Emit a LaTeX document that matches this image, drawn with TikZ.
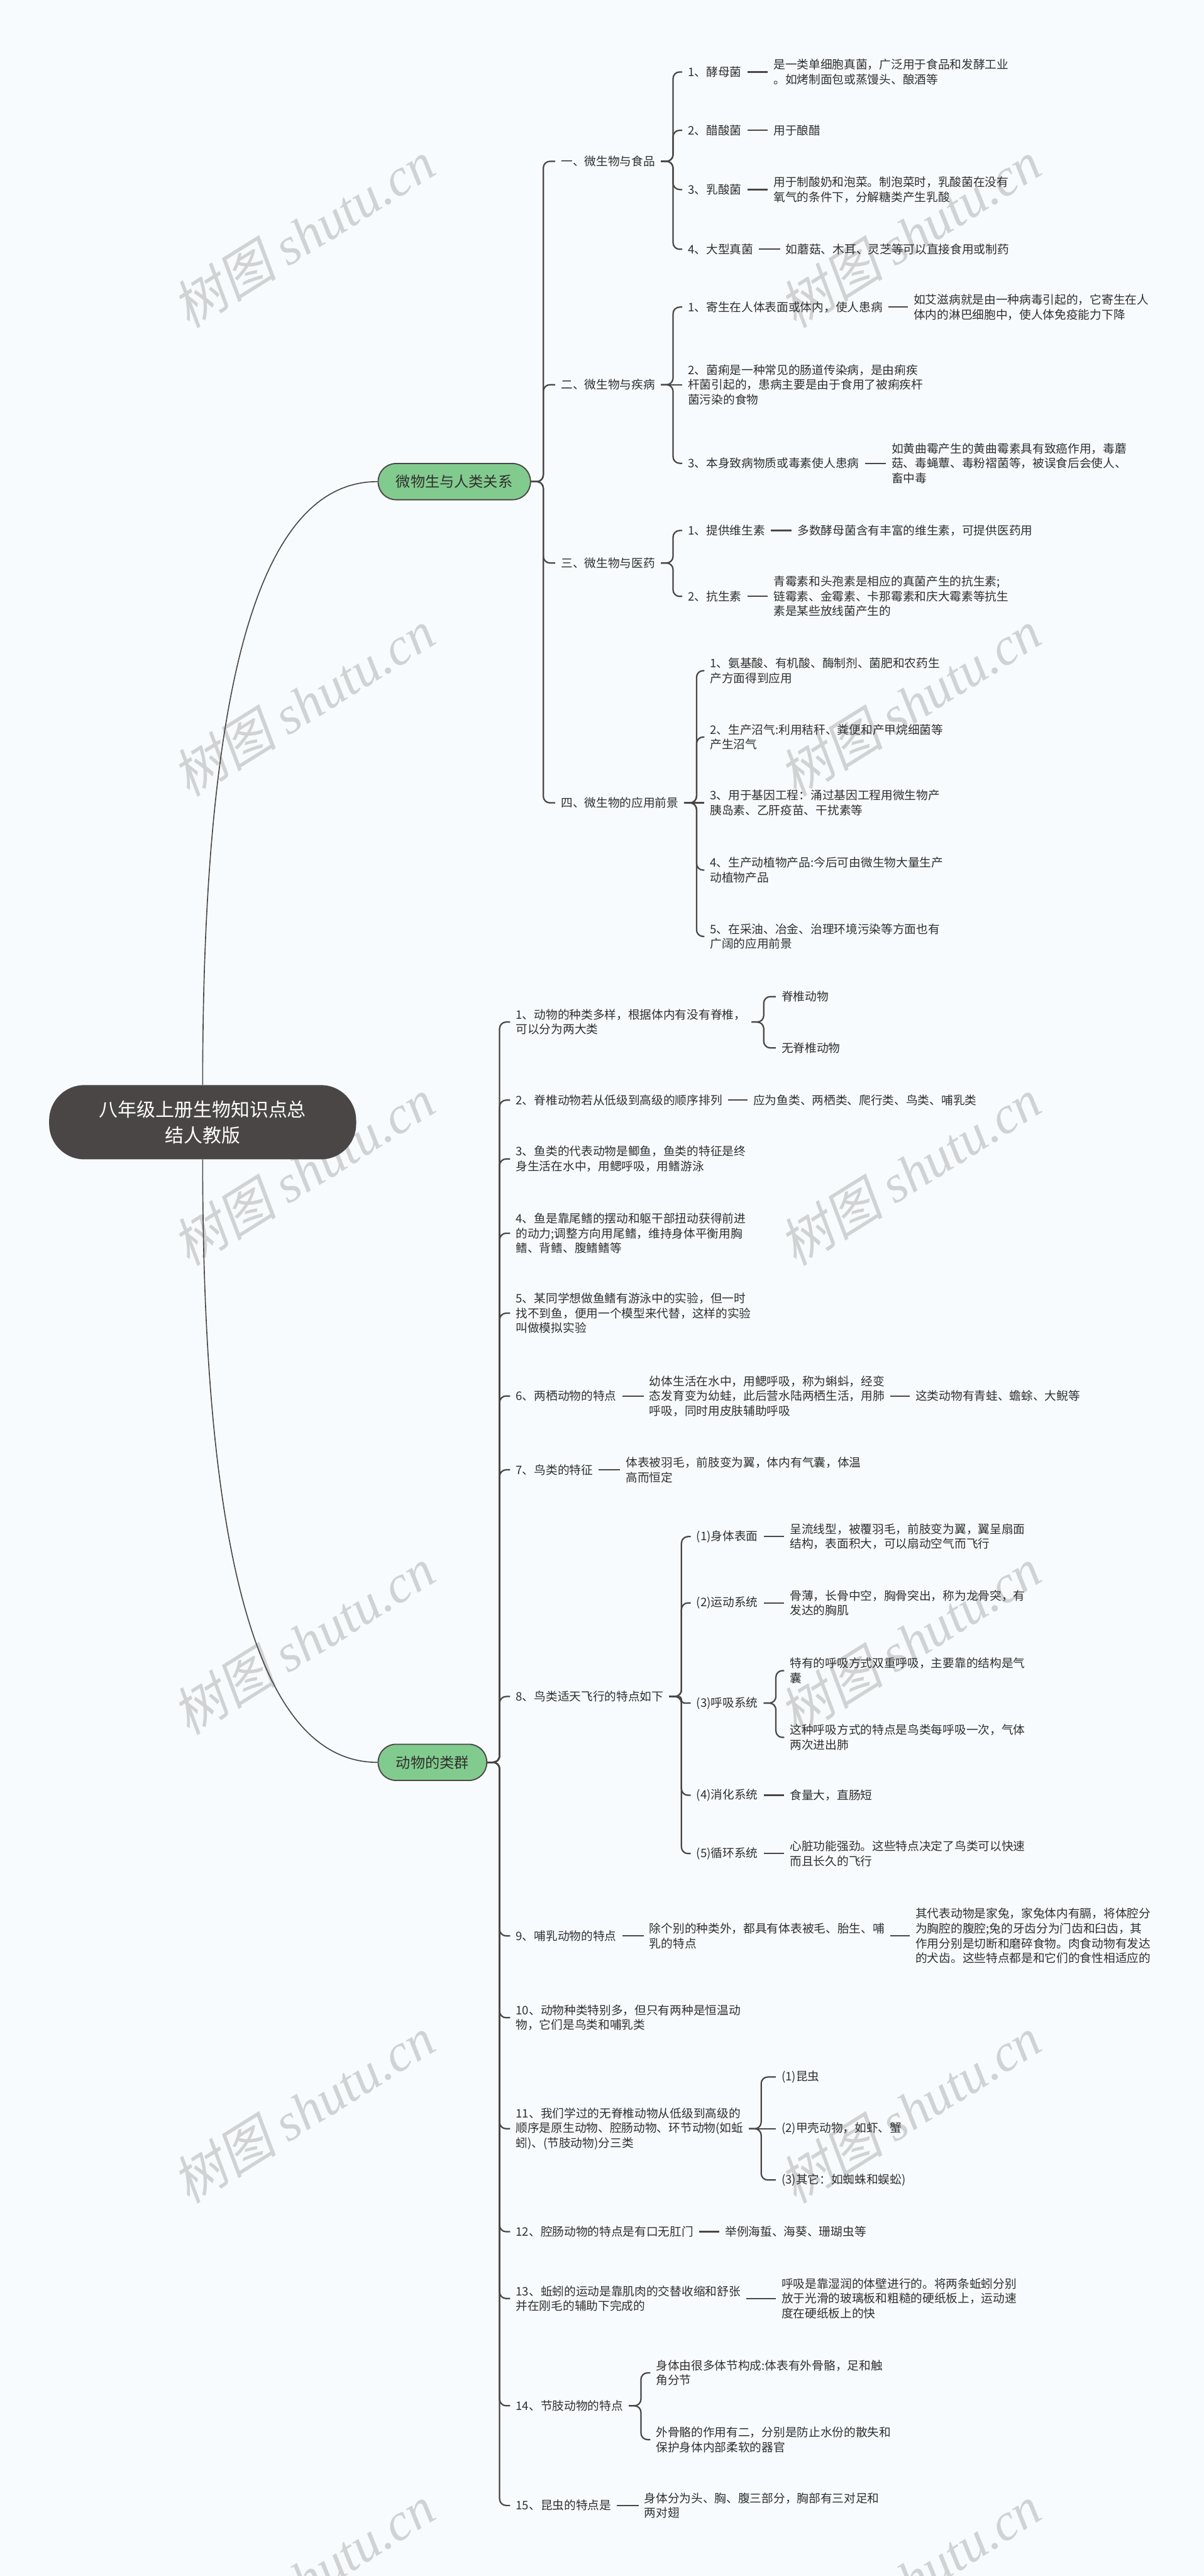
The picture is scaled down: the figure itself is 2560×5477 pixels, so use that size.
\documentclass[tikz,border=0pt]{standalone}
\usepackage{fontspec}
\setmainfont{Noto Sans CJK SC}
\newfontfamily\wmcjk[FakeSlant=0.2]{Noto Sans CJK SC}
\newfontfamily\wmlat{Liberation Serif}
\usepackage{tikz}

\definecolor{bgcol}{HTML}{F8FBFD}
\definecolor{rootgray}{HTML}{4B4646}
\definecolor{linegray}{HTML}{4A4646}
\definecolor{textgray}{HTML}{2F2F2F}
\definecolor{topicgreen}{HTML}{82CB8E}
\definecolor{wmgray}{HTML}{D0D2D3}

\newcommand{\branchto}[3][14]{\draw[link, rounded corners=#1] (#2.east) -- ++(26,0) |- (#3.west);}
\newcommand{\leafto}[2]{\draw[link] (#1.east) -- (#2.west);}

\begin{document}
\begin{tikzpicture}[x=1pt, y=-1pt,
    root/.style={fill=rootgray, text=white, rounded corners=75, align=center,
                 minimum width=653, minimum height=158, font=\fontsize{40}{55}\selectfont},
    topic/.style={draw=linegray, line width=2.5, fill=topicgreen, text=textgray, anchor=west,
                  rounded corners=38, minimum height=77, inner xsep=38, font=\fontsize{31}{38}\selectfont},
    item/.style={anchor=west, align=left, inner sep=12, text=textgray,
                 font=\fontsize{25}{31.5}\selectfont},
    wmark/.style={text=wmgray, rotate=32, inner sep=0},
    trunk/.style={draw=linegray, line width=2.2},
    link/.style={draw=linegray, line width=3}
  ]
  \useasboundingbox (0,0) rectangle (2560,5477);
  \fill[bgcol] (0,0) rectangle (2560,5477);

  \foreach \wy in {498,1495,2492,3489,4486,5483} {
    \node[wmark] (wl\wy) at (645,\wy) {\fontsize{112}{112}\selectfont\wmcjk 树图 \wmlat\itshape shutu.cn};
    \node[wmark] (wr\wy) at (1935,\wy) {\fontsize{112}{112}\selectfont\wmcjk 树图 \wmlat\itshape shutu.cn};
  }

  \node[root]  (root) at (431,2386) {八年级上册生物知识点总\\结人教版};
  \node[topic] (ta)   at (803,1024) {微物生与人类关系};
  \node[topic] (tb)   at (803,3747) {动物的类群};

  \node[item] (a1) at (1181,343)  {一、微生物与食品};
  \node[item] (a2) at (1181,818)  {二、微生物与疾病};
  \node[item] (a3) at (1181,1197) {三、微生物与医药};
  \node[item] (a4) at (1181,1707) {四、微生物的应用前景};

  \node[item] (a11)  at (1451,153) {1、酵母菌};
  \node[item] (a12)  at (1451,277) {2、醋酸菌};
  \node[item] (a13)  at (1451,403) {3、乳酸菌};
  \node[item] (a14)  at (1451,530) {4、大型真菌};
  \node[item] (a11x) at (1633,153) {是一类单细胞真菌，广泛用于食品和发酵工业\\。如烤制面包或蒸馒头、酿酒等};
  \node[item] (a12x) at (1633,277) {用于酿醋};
  \node[item] (a13x) at (1633,403) {用于制酸奶和泡菜。制泡菜时，乳酸菌在没有\\氧气的条件下，分解糖类产生乳酸};
  \node[item] (a14x) at (1659,530) {如蘑菇、木耳、灵芝等可以直接食用或制药};

  \node[item] (a21)  at (1451,653) {1、寄生在人体表面或体内，使人患病};
  \node[item] (a22)  at (1451,818) {2、菌痢是一种常见的肠道传染病，是由痢疾\\杆菌引起的，患病主要是由于食用了被痢疾杆\\菌污染的食物};
  \node[item] (a23)  at (1451,985) {3、本身致病物质或毒素使人患病};
  \node[item] (a21x) at (1931,653) {如艾滋病就是由一种病毒引起的，它寄生在人\\体内的淋巴细胞中，使人体免疫能力下降};
  \node[item] (a23x) at (1884,985) {如黄曲霉产生的黄曲霉素具有致癌作用，毒蘑\\菇、毒蝇蕈、毒粉褶菌等，被误食后会使人、\\畜中毒};

  \node[item] (a31)  at (1451,1128) {1、提供维生素};
  \node[item] (a32)  at (1451,1268) {2、抗生素};
  \node[item] (a31x) at (1684,1128) {多数酵母菌含有丰富的维生素，可提供医药用};
  \node[item] (a32x) at (1633,1268) {青霉素和头孢素是相应的真菌产生的抗生素;\\链霉素、金霉素、卡那霉素和庆大霉素等抗生\\素是某些放线菌产生的};

  \node[item] (a41) at (1498,1426) {1、氨基酸、有机酸、酶制剂、菌肥和农药生\\产方面得到应用};
  \node[item] (a42) at (1498,1567) {2、生产沼气:利用秸秆、粪便和产甲烷细菌等\\产生沼气};
  \node[item] (a43) at (1498,1707) {3、用于基因工程：涌过基因工程用微生物产\\胰岛素、乙肝疫苗、干扰素等};
  \node[item] (a44) at (1498,1850) {4、生产动植物产品:今后可由微生物大量生产\\动植物产品};
  \node[item] (a45) at (1498,1991) {5、在采油、冶金、治理环境污染等方面也有\\广阔的应用前景};

  \node[item] (b1)  at (1085,2173) {1、动物的种类多样，根据体内有没有脊椎，\\可以分为两大类};
  \node[item] (b2)  at (1085,2339) {2、脊椎动物若从低级到高级的顺序排列};
  \node[item] (b3)  at (1085,2464) {3、鱼类的代表动物是鲫鱼，鱼类的特征是终\\身生活在水中，用鳃呼吸，用鳍游泳};
  \node[item] (b4)  at (1085,2622) {4、鱼是靠尾鳍的摆动和躯干部扭动获得前进\\的动力;调整方向用尾鳍，维持身体平衡用胸\\鳍、背鳍、腹鳍鳍等};
  \node[item] (b5)  at (1085,2792) {5、某同学想做鱼鳍有游泳中的实验，但一时\\找不到鱼，便用一个模型来代替，这样的实验\\叫做模拟实验};
  \node[item] (b6)  at (1085,2968) {6、两栖动物的特点};
  \node[item] (b7)  at (1085,3125) {7、鸟类的特征};
  \node[item] (b8)  at (1085,3607) {8、鸟类适天飞行的特点如下};
  \node[item] (b9)  at (1085,4116) {9、哺乳动物的特点};
  \node[item] (b10) at (1085,4290) {10、动物种类特别多，但只有两种是恒温动\\物，它们是鸟类和哺乳类};
  \node[item] (b11) at (1085,4526) {11、我们学过的无脊椎动物从低级到高级的\\顺序是原生动物、腔肠动物、环节动物(如蚯\\蚓)、(节肢动物)分三类};
  \node[item] (b12) at (1085,4745) {12、腔肠动物的特点是有口无肛门};
  \node[item] (b13) at (1085,4887) {13、蚯蚓的运动是靠肌肉的交替收缩和舒张\\并在刚毛的辅助下完成的};
  \node[item] (b14) at (1085,5115) {14、节肢动物的特点};
  \node[item] (b15) at (1085,5327) {15、昆虫的特点是};

  \node[item] (b1v)  at (1650,2119) {脊椎动物};
  \node[item] (b1n)  at (1650,2228) {无脊椎动物};
  \node[item] (b2x)  at (1590,2339) {应为鱼类、两栖类、爬行类、鸟类、哺乳类};
  \node[item] (b6x)  at (1369,2968) {幼体生活在水中，用鳃呼吸，称为蝌蚪，经变\\态发育变为幼蛙，此后营水陆两栖生活，用肺\\呼吸，同时用皮肤辅助呼吸};
  \node[item] (b6y)  at (1935,2968) {这类动物有青蛙、蟾蜍、大鲵等};
  \node[item] (b7x)  at (1319,3125) {体表被羽毛，前肢变为翼，体内有气囊，体温\\高而恒定};

  \node[item] (b8a)  at (1469,3267) {(1)身体表面};
  \node[item] (b8b)  at (1469,3408) {(2)运动系统};
  \node[item] (b8c)  at (1469,3621) {(3)呼吸系统};
  \node[item] (b8d)  at (1469,3817) {(4)消化系统};
  \node[item] (b8e)  at (1469,3941) {(5)循环系统};
  \node[item] (b8ax) at (1668,3267) {呈流线型，被覆羽毛，前肢变为翼，翼呈扇面\\结构，表面积大，可以扇动空气而飞行};
  \node[item] (b8bx) at (1668,3408) {骨薄，长骨中空，胸骨突出，称为龙骨突，有\\发达的胸肌};
  \node[item] (b8c1) at (1668,3552) {特有的呼吸方式双重呼吸，主要靠的结构是气\\囊};
  \node[item] (b8c2) at (1668,3694) {这种呼吸方式的特点是鸟类每呼吸一次，气体\\两次进出肺};
  \node[item] (b8dx) at (1668,3817) {食量大，直肠短};
  \node[item] (b8ex) at (1668,3941) {心脏功能强劲。这些特点决定了鸟类可以快速\\而且长久的飞行};

  \node[item] (b9x)  at (1369,4116) {除个别的种类外，都具有体表被毛、胎生、哺\\乳的特点};
  \node[item] (b9y)  at (1935,4116) {其代表动物是家兔，家兔体内有膈，将体腔分\\为胸腔的腹腔;兔的牙齿分为门齿和臼齿，其\\作用分别是切断和磨碎食物。肉食动物有发达\\的犬齿。这些特点都是和它们的食性相适应的};
  \node[item] (b11a) at (1650,4416) {(1)昆虫};
  \node[item] (b11b) at (1650,4526) {(2)甲壳动物，如虾、蟹};
  \node[item] (b11c) at (1650,4635) {(3)其它：如蜘蛛和蜈蚣)};
  \node[item] (b12x) at (1530,4745) {举例海蜇、海葵、珊瑚虫等};
  \node[item] (b13x) at (1650,4887) {呼吸是靠湿润的体壁进行的。将两条蚯蚓分别\\放于光滑的玻璃板和粗糙的硬纸板上，运动速\\度在硬纸板上的快};
  \node[item] (b14a) at (1383,5045) {身体由很多体节构成:体表有外骨骼，足和触\\角分节};
  \node[item] (b14b) at (1383,5187) {外骨骼的作用有二，分别是防止水份的散失和\\保护身体内部柔软的器官};
  \node[item] (b15x) at (1358,5327) {身体分为头、胸、腹三部分，胸部有三对足和\\两对翅};

  \draw[trunk] (root.north) .. controls +(0,-1007) and +(-203,0) .. (ta.west);
  \draw[trunk] (root.south) .. controls +(0,1005) and +(-203,0) .. (tb.west);

  \branchto{ta}{a1} \branchto{ta}{a2} \branchto{ta}{a3} \branchto{ta}{a4}
  \branchto{a1}{a11} \branchto{a1}{a12} \branchto{a1}{a13} \branchto{a1}{a14}
  \leafto{a11}{a11x} \leafto{a12}{a12x} \leafto{a13}{a13x} \leafto{a14}{a14x}
  \branchto{a2}{a21} \leafto{a2}{a22} \branchto{a2}{a23}
  \leafto{a21}{a21x} \leafto{a23}{a23x}
  \branchto{a3}{a31} \branchto{a3}{a32}
  \leafto{a31}{a31x} \leafto{a32}{a32x}
  \branchto{a4}{a41} \branchto{a4}{a42} \leafto{a4}{a43} \branchto{a4}{a44} \branchto{a4}{a45}

  \branchto{tb}{b1} \branchto{tb}{b2} \branchto{tb}{b3} \branchto{tb}{b4} \branchto{tb}{b5}
  \branchto{tb}{b6} \branchto{tb}{b7} \branchto{tb}{b8} \branchto{tb}{b9} \branchto{tb}{b10}
  \branchto{tb}{b11} \branchto{tb}{b12} \branchto{tb}{b13} \branchto{tb}{b14} \branchto{tb}{b15}
  \branchto{b1}{b1v} \branchto{b1}{b1n}
  \leafto{b2}{b2x}
  \leafto{b6}{b6x} \leafto{b6x}{b6y}
  \leafto{b7}{b7x}
  \branchto{b8}{b8a} \branchto{b8}{b8b} \branchto[6]{b8}{b8c} \branchto{b8}{b8d} \branchto{b8}{b8e}
  \leafto{b8a}{b8ax} \leafto{b8b}{b8bx} \leafto{b8d}{b8dx} \leafto{b8e}{b8ex}
  \branchto{b8c}{b8c1} \branchto{b8c}{b8c2}
  \leafto{b9}{b9x} \leafto{b9x}{b9y}
  \branchto{b11}{b11a} \leafto{b11}{b11b} \branchto{b11}{b11c}
  \leafto{b12}{b12x}
  \leafto{b13}{b13x}
  \branchto{b14}{b14a} \branchto{b14}{b14b}
  \leafto{b15}{b15x}
\end{tikzpicture}
\end{document}
